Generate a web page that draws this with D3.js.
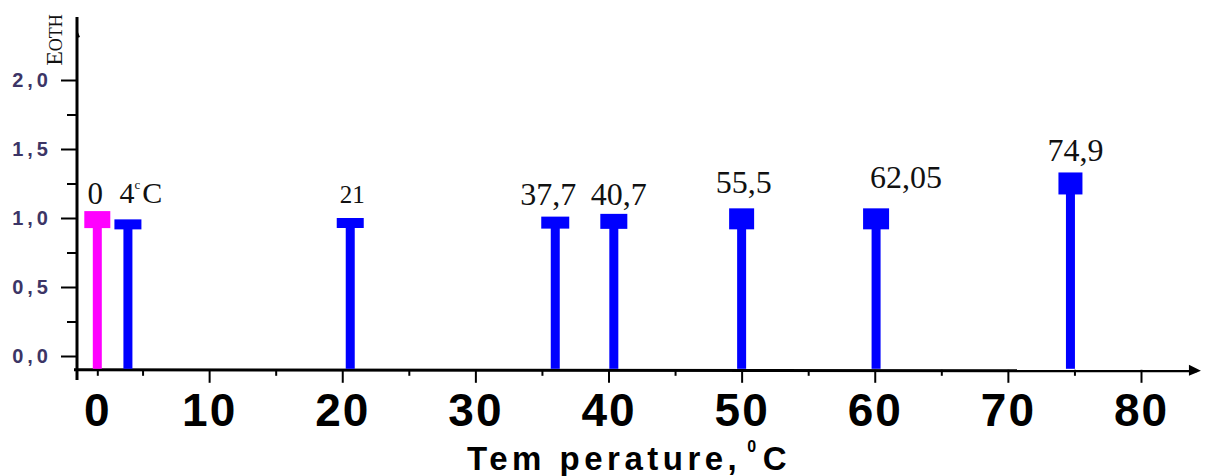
<!DOCTYPE html>
<meta charset="utf-8">
<style>
body { margin: 0; background: #fff; }
.xlab text { font: bold 46px "Liberation Sans", Arial, sans-serif; letter-spacing: 2px; fill: #000; }
.ylab text { font: bold 20px "Liberation Sans", Arial, sans-serif; letter-spacing: 4px; fill: #3c3566; }
.val { font-family: "Liberation Serif", "Times New Roman", serif; fill: #111; }
</style>
<body>
<script src="https://d3js.org/d3.v7.min.js"></script>
<script>

// data
var temps  = [1.6, 3.9, 20.6, 36.0, 40.4, 50.0, 60.1, 74.7];
var values = [1.05, 0.99, 1.0, 1.01, 1.03, 1.07, 1.07, 1.33];
var labels = ["0", "4", "21", "37,7", "40,7", "55,5", "62,05", "74,9"];

var xTickValues = [1.6, 10, 20, 30, 40, 50, 60, 70, 80];
var xTickLabels = ["0", "10", "20", "30", "40", "50", "60", "70", "80"];
var xMinor = [5, 15, 25, 35, 45, 55, 65, 75];
var yTickValues = [0, 0.5, 1, 1.5, 2];
var yTickLabels = ["0,0", "0,5", "1,0", "1,5", "2,0"];
var yMinor = [0.25, 0.75, 1.25, 1.75];

// marker / label layout (style, not data)
var capH = [17, 10, 10, 12, 15, 21, 21, 22];
var capW = [26, 27, 27, 28, 27, 25, 26, 24];
var labDx = [-2, 0, 2, -7, 5, 2, 30, 5];
var labGap = [7, 16, 15, 12, 9, 15, 20, 11];
var labSize = [31, 30, 25, 32, 32, 32, 32, 32];

var W = 1205, H = 476;
var x = d3.scaleLinear().domain([0, 80]).range([76, 1141]);
var y = d3.scaleLinear().domain([0, 2]).range([356, 80]);
var axisY = y(-0.1);

var svg = d3.select("body").append("svg")
    .attr("width", W).attr("height", H);

// minor x ticks
svg.append("g")
    .attr("transform", "translate(0," + axisY + ")")
    .call(d3.axisBottom(x).tickValues(xMinor).tickSize(6).tickFormat(""))
    .call(function(g) { g.select(".domain").remove(); g.selectAll("line").attr("stroke-width", 2); });

// major x ticks + labels
var gx = svg.append("g")
    .attr("class", "xlab")
    .attr("transform", "translate(0," + axisY + ")")
    .call(d3.axisBottom(x).tickValues(xTickValues)
      .tickFormat(function(d, i) { return xTickLabels[i]; })
      .tickSize(13).tickPadding(12));
gx.select(".domain").remove();
gx.selectAll("line").attr("stroke-width", 2);
gx.selectAll(".tick").filter(function(d, i) { return i === 0; })
    .select("line").attr("y2", 6);
gx.selectAll("text").attr("dy", "0.71em").attr("y", 24);

// minor y ticks
svg.append("g")
    .attr("transform", "translate(77,0)")
    .call(d3.axisLeft(y).tickValues(yMinor).tickSize(10).tickFormat(""))
    .call(function(g) { g.select(".domain").remove(); g.selectAll("line").attr("stroke-width", 2); });

// major y ticks + labels
var gy = svg.append("g")
    .attr("class", "ylab")
    .attr("transform", "translate(77,0)")
    .call(d3.axisLeft(y).tickValues(yTickValues)
      .tickFormat(function(d, i) { return yTickLabels[i]; })
      .tickSize(16).tickPadding(9));
gy.select(".domain").remove();
gy.selectAll("line").attr("stroke-width", 2);

// axis lines
svg.append("line").attr("x1", 77).attr("x2", 77).attr("y1", 17).attr("y2", 380)
    .attr("stroke", "#000").attr("stroke-width", 3);
svg.append("path").attr("d", "M77,30 L80,37 L77,38 Z").attr("fill", "#000");
svg.append("line").attr("x1", 74).attr("x2", x(84.2)).attr("y1", axisY).attr("y2", axisY + 1)
    .attr("stroke", "#000").attr("stroke-width", 3);
svg.append("path")
    .attr("d", "M" + (x(84.2) - 8) + "," + (axisY - 5) + " L" + (x(84.2) + 4) + "," + (axisY + 1) +
      " L" + (x(84.2) - 8) + "," + (axisY + 6) + " Z")
    .attr("fill", "#000");

// stems and caps
var bars = svg.append("g").selectAll("g")
    .data(temps)
    .enter().append("g");

bars.append("rect")
    .attr("x", function(d) { return x(d) - 4.5; })
    .attr("width", 9)
    .attr("y", function(d, i) { return y(values[i]) + capH[i] - 1; })
    .attr("height", function(d, i) { return axisY - 1 - (y(values[i]) + capH[i] - 1); })
    .attr("fill", function(d, i) { return i === 0 ? "#ff00ff" : "#0000ff"; });

bars.append("rect")
    .attr("x", function(d, i) { return x(d) - capW[i] / 2; })
    .attr("width", function(d, i) { return capW[i]; })
    .attr("y", function(d, i) { return y(values[i]); })
    .attr("height", function(d, i) { return capH[i]; })
    .attr("fill", function(d, i) { return i === 0 ? "#ff00ff" : "#0000ff"; });

// value labels
var vt = svg.append("g").selectAll("text")
    .data(temps)
    .enter().append("text")
    .attr("class", "val")
    .attr("text-anchor", "middle")
    .attr("x", function(d, i) { return x(d) + labDx[i] + (i === 1 ? 13 : 0); })
    .attr("y", function(d, i) { return y(values[i]) - labGap[i]; })
    .style("font-size", function(d, i) { return labSize[i] + "px"; });
vt.each(function(d, i) {
  var t = d3.select(this);
  t.append("tspan").text(labels[i]);
  if (i === 1) {
    t.append("tspan").attr("dy", -14).style("font-size", "13px").text("c");
    t.append("tspan").attr("dy", 14).attr("dx", 2).text("C");
  }
});

// y axis title
var yt = svg.append("text")
    .attr("class", "val")
    .attr("text-anchor", "middle")
    .attr("transform", "translate(62,40) rotate(-90)");
yt.append("tspan").style("font-size", "24px").text("E");
yt.append("tspan").style("font-size", "18px").text("ОТН");

// x axis title
var xt = svg.append("text")
    .attr("x", 467).attr("y", 470)
    .style("font", "bold 33px 'Liberation Sans', Arial, sans-serif")
    .style("letter-spacing", "4.5px")
    .attr("fill", "#000");
xt.append("tspan").text("Tem perature,");
xt.append("tspan").attr("dy", -18).attr("dx", 6).style("font-size", "16px").text("0");
xt.append("tspan").attr("dy", 18).attr("dx", 2).text("C");

</script>
</body>
